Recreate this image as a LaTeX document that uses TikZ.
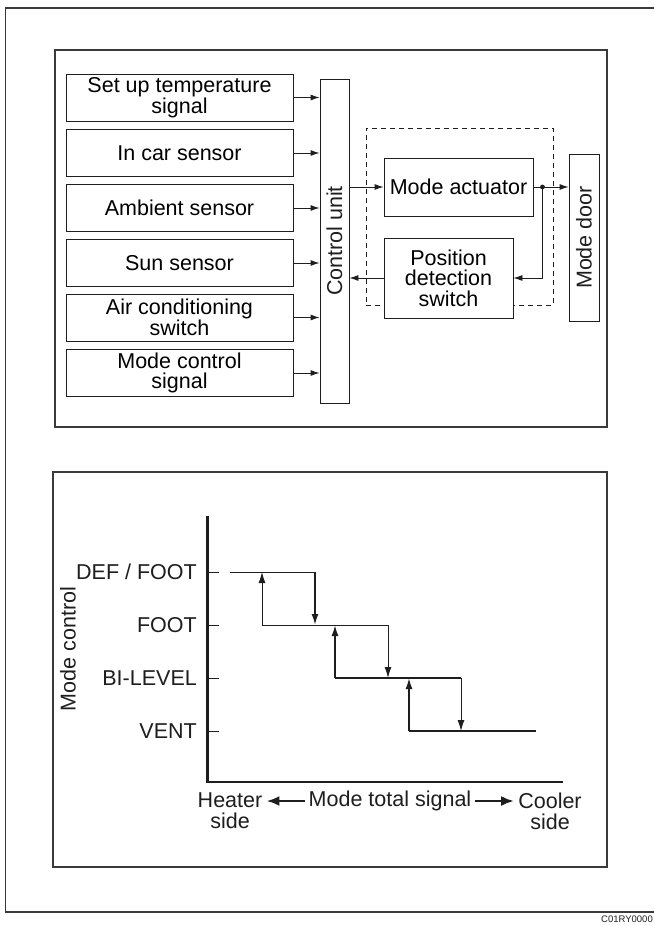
\documentclass[tikz,border=0pt]{standalone}
\usepackage{fontspec}
\setmainfont{Liberation Sans}
\usetikzlibrary{arrows.meta,calc,positioning}
\definecolor{ink}{HTML}{1E1E1E}
\definecolor{frameink}{HTML}{3A3A3A}
\tikzset{
  frame/.style={draw=frameink, line width=1.3pt},
  panel/.style={draw=frameink, line width=1.1pt, inner sep=0pt},
  srcbox/.style={
    draw=ink,
    line width=0.9pt,
    minimum width=227pt,
    minimum height=47pt,
    inner sep=0pt,
    align=center,
    font=\fontsize{21.5}{20}\selectfont
  },
  block/.style={draw=ink, fill=white, line width=0.9pt, inner sep=0pt, align=center,
    font=\fontsize{21.5}{20.5}\selectfont},
  assembly/.style={draw=ink, line width=0.7pt, dash pattern=on 5pt off 4pt, inner sep=0pt},
  sig/.style={draw=ink, line width=0.9pt, -{Latex[length=9pt,width=6pt]}},
  wire/.style={draw=ink, line width=0.9pt},
  axis/.style={draw=ink, line width=2.2pt},
  tick/.style={draw=ink, line width=0.9pt},
  thinstep/.style={draw=ink, line width=0.9pt},
  thickstep/.style={draw=ink, line width=1.7pt},
  stepup/.style={-{Latex[length=11pt,width=7pt]}},
  stepdown/.style={-{Latex[length=11pt,width=7pt]}},
  level/.style={inner sep=0pt, font=\fontsize{21.5}{20}\selectfont, text=ink},
  axislabel/.style={inner xsep=4pt, inner ysep=0pt, align=center,
    font=\fontsize{21.5}{21}\selectfont, text=ink},
  bigarrow/.style={draw=ink, line width=2.6pt, -{Latex[length=13pt,width=10pt]}},
  code/.style={inner sep=0pt, font=\fontsize{9.5}{9.5}\selectfont, text=ink}
}

\begin{document}
\begin{tikzpicture}[x=1pt,y=-1pt]
\path[use as bounding box] (0,0) rectangle (654,926);
\fill[white] (0,0) rectangle (654,926);

% outer sheet frame, open to the right
\draw[frame] (654,8) -- (5.5,8) -- (5.5,912) -- (654,912);
\node[code, anchor=east] (code) at (653,919) {C01RY0000};

% --- block diagram ---
\node[panel, minimum width=552, minimum height=377] (blockpanel) at (331,238.5) {};

\node[srcbox] (setup) at (179.5,97.5) {Set up temperature\\signal};
\node[srcbox] (incar) at (179.5,153) {In car sensor};
\node[srcbox] (ambient) at (179.5,208) {Ambient sensor};
\node[srcbox] (sun) at (179.5,263) {Sun sensor};
\node[srcbox] (aircon) at (179.5,317.5) {Air conditioning\\switch};
\node[srcbox] (modesig) at (179.5,373) {Mode control\\signal};

\node[block, minimum width=29, minimum height=324,
  label={[rotate=90, font=\fontsize{21.5}{20}\selectfont, text=ink]center:Control unit}] (cu) at (334.5,241) {};

\draw[sig] (setup.east) -- (setup.east -| cu.west);
\draw[sig] (incar.east) -- (incar.east -| cu.west);
\draw[sig] (ambient.east) -- (ambient.east -| cu.west);
\draw[sig] (sun.east) -- (sun.east -| cu.west);
\draw[sig] (aircon.east) -- (aircon.east -| cu.west);
\draw[sig] (modesig.east) -- (modesig.east -| cu.west);

\node[assembly, minimum width=187, minimum height=177] (motor) at (459.5,216.5) {};
\node[block, minimum width=149, minimum height=58] (actuator) at (458.5,187) {Mode actuator};
\node[block, minimum width=129, minimum height=80] (position) at (448.5,278) {Position\\detection\\switch};
\node[block, minimum width=30, minimum height=167,
  label={[rotate=90, font=\fontsize{21.5}{20}\selectfont, text=ink]center:Mode door}] (door) at (584,237.5) {};

\coordinate (split) at ($(actuator.east)+(9,0)$);
\draw[sig] (cu.east |- actuator.west) -- (actuator.west);
\draw[wire] (actuator.east) -- (split);
\fill[ink] (split) circle (2.4);
\draw[sig] (split) -- (split -| door.west);
\draw[sig] (split) |- (position.east);
\draw[sig] (position.west) -- (position.west -| cu.east);

% --- mode control chart ---
\node[panel, minimum width=554, minimum height=395] (chartpanel) at (330,669.5) {};

\coordinate (origin) at (207.5,782);
\draw[axis] (207.5,516) -- (origin) -- (563,782);

\draw[tick] (207.5,572) -- (219,572);
\draw[tick] (207.5,625) -- (219,625);
\draw[tick] (207.5,678) -- (219,678);
\draw[tick] (207.5,731) -- (219,731);
\node[level, anchor=east] (deffoot) at (197,572) {DEF / FOOT};
\node[level, anchor=east] (foot) at (197,625) {FOOT};
\node[level, anchor=east] (bilevel) at (197,678) {BI-LEVEL};
\node[level, anchor=east] (vent) at (197,731) {VENT};
\node[level, rotate=90] (ylabel) at (68,649) {Mode control};

\draw[thinstep] (230,572) -- (315,572);
\draw[thinstep] (262,625) -- (388,625);
\draw[thickstep] (335,678) -- (461,678);
\draw[thickstep] (409,731) -- (536,731);
\draw[thinstep, stepup] (262,625) -- (262,572);
\draw[thickstep, stepdown] (315,572) -- (315,625);
\draw[thickstep, stepup] (335,678) -- (335,625);
\draw[thinstep, stepdown] (388,625) -- (388,678);
\draw[thickstep, stepup] (409,731) -- (409,678);
\draw[thinstep, stepdown] (461,678) -- (461,731);

\node[axislabel] (heater) at (230,811) {Heater\\side};
\node[axislabel] (total) at (390,801) {Mode total signal};
\node[axislabel] (cooler) at (550,811) {Cooler\\side};
\draw[bigarrow] (total.west) -- (total.west -| heater.east);
\draw[bigarrow] (total.east) -- (total.east -| cooler.west);
\end{tikzpicture}
\end{document}
